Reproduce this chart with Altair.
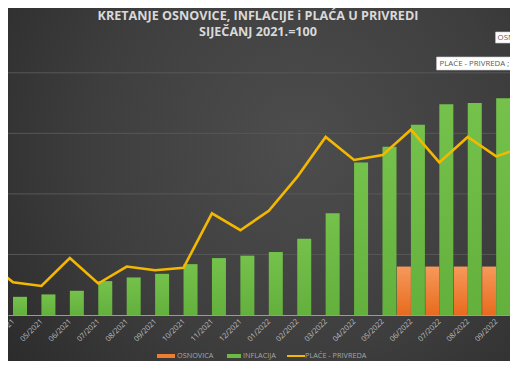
import json
import altair as alt
import pandas as pd

# ---- data (Siječanj 2021 = 100) ----
months = ["03/2021", "04/2021", "05/2021", "06/2021", "07/2021", "08/2021",
          "09/2021", "10/2021", "11/2021", "12/2021", "01/2022", "02/2022",
          "03/2022", "04/2022", "05/2022", "06/2022", "07/2022", "08/2022",
          "09/2022", "10/2022"]
osnovica = [None, 100, 100, 100, 100, 100, 100, 100, 100, 100, 100, 100,
            100, 100, 100, 104.0, 104.0, 104.0, 104.0, 110.2]
inflacija = [None, 101.5, 101.7, 102.0, 102.8, 103.1, 103.4, 104.2, 104.7,
             104.9, 105.2, 106.3, 108.4, 112.6, 113.9, 115.7, 117.4, 117.5,
             117.9, None]
place = [104.6, 102.7, 102.4, 104.7, 102.6, 104.0, 103.7, 103.9, 108.4,
         107.0, 108.6, 111.4, 114.7, 112.8, 113.2, 115.3, 112.6, 114.7,
         113.1, 113.9]
grid_values = [105, 110, 115, 120]
series_names = ["OSNOVICA", "INFLACIJA", "PLAĆE - PRIVREDA"]
title_lines = ["KRETANJE OSNOVICE, INFLACIJE i PLAĆA U PRIVREDI",
               "SIJEČANJ 2021.=100"]

df = pd.DataFrame({
    "idx": list(range(len(months))),
    "month": months,
    "osnovica": osnovica,
    "inflacija": inflacija,
    "place": place,
})

# ---- layout ----
W, H = 502, 262
T, B = 45, 46
STEP = 29.0
FONT = "Open Sans"
ORANGE = "#ed7d31"
GREEN = "#6cb944"
YELLOW = "#f5b800"

xscale = alt.Scale(domain=[1, 1 + W / STEP], nice=False, zero=False)
yscale = alt.Scale(domain=[100, 100 + H / 12.11], nice=False, zero=False)
xaxis = alt.Axis(values=list(range(1, 20)),
                 labelExpr=json.dumps(months) + "[datum.value]",
                 labelAngle=-45, labelAlign="right", labelBaseline="middle",
                 labelFontSize=7.5, labelFont=FONT, labelColor="#bfbfbf",
                 labelPadding=5, labelOverlap=False, labelFlush=False,
                 labelBound=False, ticks=False, grid=False,
                 domainColor="#9a9a9a", domainWidth=1, title=None, zindex=1)
X = alt.X("idx:Q", scale=xscale, axis=xaxis)

one = pd.DataFrame({"k": [0]})

bg = alt.Chart(one).mark_rect(
    fill=alt.Gradient(gradient="radial",
                      stops=[alt.GradientStop(color="#4d4d4d", offset=0),
                             alt.GradientStop(color="#3e3e3e", offset=0.55),
                             alt.GradientStop(color="#2a2a2a", offset=1)],
                      x1=0.58, y1=0.42, r1=0, x2=0.58, y2=0.42, r2=0.75)
).encode(x=alt.value(0), x2=alt.value(W), y=alt.value(-T), y2=alt.value(H + B))

grid = alt.Chart(pd.DataFrame({"g": grid_values})).mark_rule(
    color="#575757", strokeWidth=1
).encode(y=alt.Y("g:Q", scale=yscale, axis=None), x=alt.value(0), x2=alt.value(W))

base = alt.Chart(df)

bars_o = base.mark_bar(
    width=14, xOffset=-7,
    fill=alt.Gradient(gradient="linear",
                      stops=[alt.GradientStop(color="#f6995a", offset=0),
                             alt.GradientStop(color="#e86b1f", offset=1)],
                      x1=0, x2=0, y1=0, y2=1)
).encode(x=X, y=alt.Y("osnovica:Q", scale=yscale, axis=None), y2=alt.datum(100))

bars_g = base.mark_bar(
    width=14, xOffset=7,
    fill=alt.Gradient(gradient="linear",
                      stops=[alt.GradientStop(color="#74c14b", offset=0),
                             alt.GradientStop(color="#64b03d", offset=1)],
                      x1=0, x2=0, y1=0, y2=1)
).encode(x=X, y=alt.Y("inflacija:Q", scale=yscale, axis=None), y2=alt.datum(100))

line = base.mark_line(color=YELLOW, strokeWidth=2.6).encode(
    x=X, y=alt.Y("place:Q", scale=yscale, axis=None))

last = base.transform_filter(alt.datum.idx == 19).transform_calculate(
    lbl_p="'" + series_names[2] + " ; ' + replace(format(datum.place, '.1f'), '.', ',')",
    lbl_o="'" + series_names[0] + " ; ' + replace(format(datum.osnovica, '.1f'), '.', ',')",
)
box_p = last.mark_rect(fill="white", stroke="#cfcfcf", strokeWidth=0.6,
                       xOffset=-88, x2Offset=40).encode(
    x=X, x2="idx:Q", y=alt.value(4), y2=alt.value(17))
txt_p = last.mark_text(align="left", baseline="middle", dx=-85, fontSize=7.8,
                       font=FONT, color="#595959").encode(
    x=X, y=alt.value(10.5), text="lbl_p:N")
box_o = last.mark_rect(fill="white", stroke="#cfcfcf", strokeWidth=0.6,
                       xOffset=-29, x2Offset=60).encode(
    x=X, x2="idx:Q", y=alt.value(-21), y2=alt.value(-10))
txt_o = last.mark_text(align="left", baseline="middle", dx=-27, fontSize=7.8,
                       font=FONT, color="#595959").encode(
    x=X, y=alt.value(-15.5), text="lbl_o:N")

# ---- title (two centred lines) ----
ttl = [
    alt.Chart(one).mark_text(text=t, align="center", baseline="middle",
                             fontSize=12.6, font=FONT, fontWeight="bold",
                             color="#d9d9d9").encode(x=alt.value(250), y=alt.value(yy))
    for t, yy in zip(title_lines, [-37, -21])
]

# ---- legend ----
LY = 303
leg = alt.Chart(one)
leg_o = leg.mark_rect(color=ORANGE).encode(
    x=alt.value(149), x2=alt.value(167), y=alt.value(LY - 2), y2=alt.value(LY + 2))
leg_g = leg.mark_rect(color=GREEN).encode(
    x=alt.value(219), x2=alt.value(233), y=alt.value(LY - 2), y2=alt.value(LY + 2))
leg_l = leg.mark_rule(color=YELLOW, strokeWidth=2).encode(
    x=alt.value(279), x2=alt.value(297), y=alt.value(LY))
leg_t = [
    leg.mark_text(text=name, align="left", baseline="middle", fontSize=7.3,
                  font=FONT, color="#a6a6a6").encode(x=alt.value(px), y=alt.value(LY))
    for name, px in zip(series_names, [169, 235, 297])
]

chart = alt.layer(
    bg, grid, bars_o, bars_g, line, box_p, txt_p, box_o, txt_o,
    *ttl, leg_o, leg_g, leg_l, *leg_t
).properties(
    width=W, height=H,
    padding={"left": 0, "top": T, "right": 0, "bottom": B},
    autosize=alt.AutoSizeParams(type="none"),
    background="#333333",
).configure_view(stroke=None)

chart.save("out.html", embed_options={"renderer": "svg", "actions": False})
